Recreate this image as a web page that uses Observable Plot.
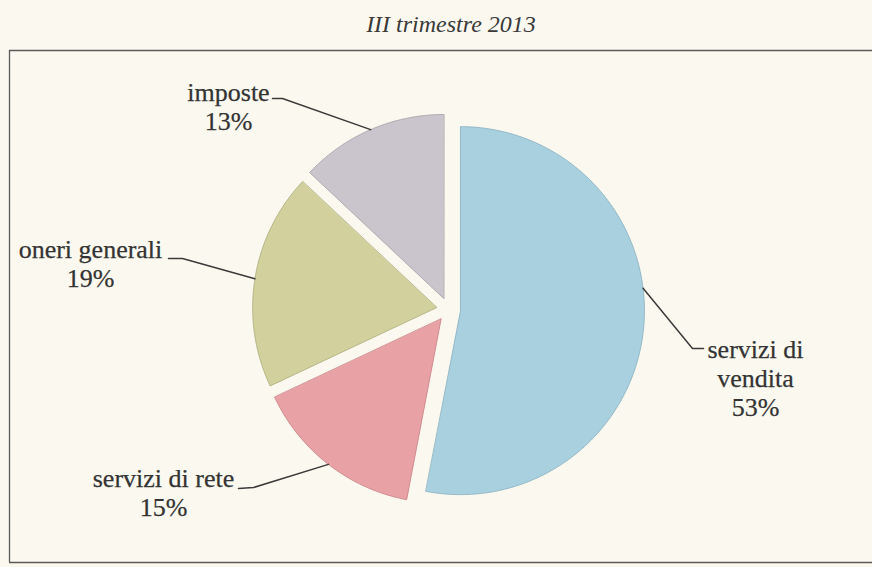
<!DOCTYPE html>
<html><head><meta charset="utf-8">
<script src="https://cdn.jsdelivr.net/npm/d3@7"></script>
<script src="https://cdn.jsdelivr.net/npm/@observablehq/plot@0.6"></script>
<style>
html,body{margin:0;padding:0;background:#fbf9ef;overflow:hidden;}
#title{height:44px;box-sizing:border-box;padding-top:12px;padding-left:30px;text-align:center;font:italic 24px/1 "Liberation Serif",serif;color:#3a3a3a;}
</style></head><body>
<div id="title">III trimestre 2013</div>
<div id="chart"></div>
<script>
// ---- data ----
const categories = ["servizi di vendita", "servizi di rete", "oneri generali", "imposte"];
const values = [53, 15, 19, 13];
const labelLines = [["servizi di", "vendita", "53%"], ["servizi di rete", "15%"], ["oneri generali", "19%"], ["imposte", "13%"]];
const colors = ["#a9d0df", "#e8a2a6", "#d2d19d", "#cac4cd"];
const outlines = ["#86adbf", "#c97c83", "#aaa978", "#a39ea7"];

// ---- layout ----
const W = 872, H = 523, TOP = 44;
const CX = 448, CY = 309, R = 184, EXPLODE = 12;
const FONT = "Liberation Serif";
// label anchor (center x, baseline of last line), leader polyline pieces
const labelPos = [
  {x: 755, y: 415, attachDeg: 83, tail: [[692, 348], [703, 348]], head: null},
  {x: 163, y: 515, attachDeg: null, head: [[238, 488], [253, 487]], tail: null},
  {x: 90, y: 286, attachDeg: null, head: [[168, 258], [182, 258]], tail: null},
  {x: 228, y: 129, attachDeg: null, head: [[272, 98], [282, 98]], tail: null}
];

const data = categories.map((c, i) => ({cat: c, value: values[i], color: colors[i], outline: outlines[i]}));
const arcs = d3.pie().sort(null).value(d => d.value)(data);

function apexOf(a) {
  const mid = (a.startAngle + a.endAngle) / 2;
  return [CX + EXPLODE * Math.sin(mid), CY - EXPLODE * Math.cos(mid)];
}
function slicePolygon(a) {
  const [ax, ay] = apexOf(a);
  const pts = [{x: ax, y: ay}];
  const n = Math.max(2, Math.ceil((a.endAngle - a.startAngle) / 0.01));
  for (let k = 0; k <= n; k++) {
    const t = a.startAngle + (a.endAngle - a.startAngle) * k / n;
    pts.push({x: ax + R * Math.sin(t), y: ay - R * Math.cos(t)});
  }
  return pts;
}
function leader(a, lp) {
  const [ax, ay] = apexOf(a);
  const ang = lp.attachDeg != null ? lp.attachDeg * Math.PI / 180 : (a.startAngle + a.endAngle) / 2;
  const p = [ax + R * Math.sin(ang), ay - R * Math.cos(ang)];
  let pts = [];
  if (lp.head) pts = pts.concat(lp.head);
  pts.push(p);
  if (lp.tail) pts = pts.concat(lp.tail);
  return pts.map(([x, y]) => ({x, y}));
}

const marks = [];
// frame (top, left, bottom) — no right border in the reference
marks.push(Plot.ruleY([50], {x1: 9, x2: W + 10, stroke: "#5a5a5a", strokeWidth: 1.3}));
marks.push(Plot.ruleY([562], {x1: 9, x2: W + 10, stroke: "#5a5a5a", strokeWidth: 1.3}));
marks.push(Plot.ruleX([9], {y1: 50, y2: 562, stroke: "#5a5a5a", strokeWidth: 1.3}));

arcs.forEach((a, i) => {
  marks.push(Plot.line(slicePolygon(a), {x: "x", y: "y", curve: "linear-closed", fill: a.data.color, stroke: a.data.outline, strokeWidth: 0.8}));
});
arcs.forEach((a, i) => {
  marks.push(Plot.line(leader(a, labelPos[i]), {x: "x", y: "y", stroke: "#3a3a3a", strokeWidth: 1.5}));
  marks.push(Plot.text([labelLines[i].join("\n")], {
    x: () => labelPos[i].x, y: () => labelPos[i].y, text: d => d,
    lineAnchor: "bottom", lineHeight: 29 / 26, fontSize: 26, fontFamily: FONT, fill: "#333333", textAnchor: "middle",
    stroke: "#333333", strokeWidth: 0.25
  }));
});

const chart = Plot.plot({
  width: W, height: H,
  marginTop: 0, marginRight: 0, marginBottom: 0, marginLeft: 0,
  x: {domain: [0, W], range: [0, W], axis: null},
  y: {domain: [TOP, TOP + H], range: [0, H], axis: null},
  style: {background: "transparent", overflow: "visible"},
  marks
});
document.getElementById("chart").appendChild(chart);
</script>
</body></html>
